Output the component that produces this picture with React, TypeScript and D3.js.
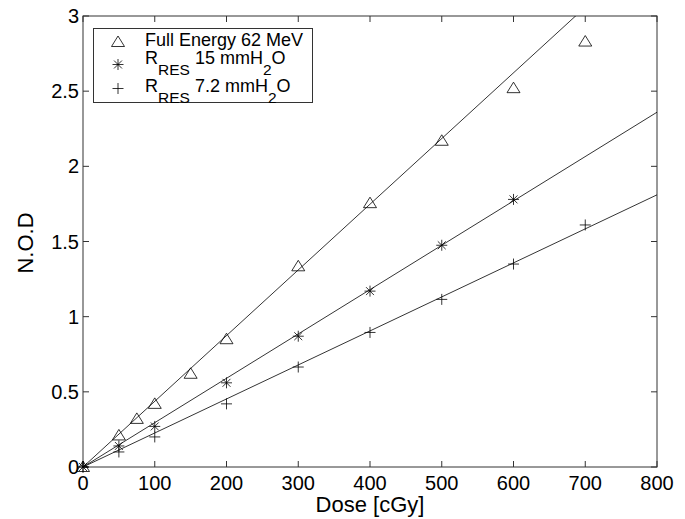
import React from "react";
import * as d3 from "d3";

// values
const xTicks = [0, 100, 200, 300, 400, 500, 600, 700, 800];
const yTicks = [0, 0.5, 1, 1.5, 2, 2.5, 3];

const fullDoses = [0, 50, 75, 100, 150, 200, 300, 400, 500, 600, 700];
const fullNod = [0, 0.21, 0.32, 0.42, 0.62, 0.85, 1.335, 1.755, 2.17, 2.52, 2.83];

const res15Doses = [0, 50, 100, 200, 300, 400, 500, 600];
const res15Nod = [0, 0.14, 0.27, 0.56, 0.87, 1.17, 1.475, 1.78];

const res72Doses = [0, 50, 100, 200, 300, 400, 500, 600, 700];
const res72Nod = [0, 0.1, 0.2, 0.42, 0.665, 0.895, 1.115, 1.35, 1.61];

// linear fits through the origin (slope per cGy)
const fitSlopes = [0.00437, 0.00295, 0.002263];

const width = 685;
const height = 519;
const margin = { top: 16, right: 28, bottom: 52, left: 83 };
const font = "'Liberation Sans', Arial, Helvetica, sans-serif";

const Triangle = ({ x, y }: { x: number; y: number }) => (
  <path
    d={`M${x},${y - 6}L${x + 6.5},${y + 4.5}L${x - 6.5},${y + 4.5}Z`}
    fill="none"
    stroke="#000"
    strokeWidth={0.8}
  />
);

const Star = ({ x, y }: { x: number; y: number }) => {
  const r = 5.5;
  const d = r * 0.72;
  return (
    <path
      d={`M${x - r},${y}H${x + r}M${x},${y - r}V${y + r}M${x - d},${y - d}L${x + d},${y + d}M${x - d},${y + d}L${x + d},${y - d}`}
      stroke="#000"
      strokeWidth={0.8}
    />
  );
};

const Plus = ({ x, y }: { x: number; y: number }) => {
  const r = 5.5;
  return (
    <path
      d={`M${x - r},${y}H${x + r}M${x},${y - r}V${y + r}`}
      stroke="#000"
      strokeWidth={0.8}
    />
  );
};

export default function App() {
  const x = d3
    .scaleLinear()
    .domain([0, 800])
    .range([margin.left, width - margin.right]);
  const y = d3
    .scaleLinear()
    .domain([0, 3])
    .range([height - margin.bottom, margin.top]);

  const [x0, x1] = x.range();
  const [y0, y1] = y.range();
  const tick = 6;

  const fitLine = d3
    .line<number>()
    .x((d) => x(d[0]))
    .y((d) => y(d[1]));

  return (
    <div style={{ position: "absolute", left: 0, top: 0 }}>
      <svg width={width} height={height} style={{ display: "block", background: "#fff" }}>
        <defs>
          <clipPath id="plot">
            <rect x={x0} y={y1} width={x1 - x0} height={y0 - y1} />
          </clipPath>
        </defs>

        {/* frame */}
        <rect x={x0} y={y1} width={x1 - x0} height={y0 - y1} fill="none" stroke="#333" strokeWidth={1} />

        {/* ticks */}
        {xTicks.map((t) => (
          <g key={"x" + t}>
            <line x1={x(t)} x2={x(t)} y1={y0} y2={y0 - tick} stroke="#333" />
            <line x1={x(t)} x2={x(t)} y1={y1} y2={y1 + tick} stroke="#333" />
            <text
              x={x(t)}
              y={y0 + 23}
              textAnchor="middle"
              fontFamily={font}
              fontSize={20}
              fill="#000"
            >
              {t}
            </text>
          </g>
        ))}
        {yTicks.map((t) => (
          <g key={"y" + t}>
            <line x1={x0} x2={x0 + tick} y1={y(t)} y2={y(t)} stroke="#333" />
            <line x1={x1} x2={x1 - tick} y1={y(t)} y2={y(t)} stroke="#333" />
            <text
              x={x0 - 4}
              y={y(t) + 7}
              textAnchor="end"
              fontFamily={font}
              fontSize={20}
              fill="#000"
            >
              {t}
            </text>
          </g>
        ))}

        {/* axis titles */}
        <text x={370} y={512} textAnchor="middle" fontFamily={font} fontSize={22} fill="#000">
          Dose [cGy]
        </text>
        <text
          transform={`translate(33,243) rotate(-90)`}
          textAnchor="middle"
          fontFamily={font}
          fontSize={22}
          fill="#000"
        >
          N.O.D
        </text>

        {/* fitted lines */}
        <g clipPath="url(#plot)">
          {fitSlopes.map((s, i) => (
            <path
              key={i}
              d={fitLine([
                [0, 0],
                [800, 800 * s],
              ] as any) as string}
              fill="none"
              stroke="#000"
              strokeWidth={0.8}
            />
          ))}
        </g>

        {/* data markers */}
        {fullDoses.map((d, i) => (
          <Triangle key={"t" + i} x={x(d)} y={y(fullNod[i])} />
        ))}
        {res15Doses.map((d, i) => (
          <Star key={"s" + i} x={x(d)} y={y(res15Nod[i])} />
        ))}
        {res72Doses.map((d, i) => (
          <Plus key={"p" + i} x={x(d)} y={y(res72Nod[i])} />
        ))}

        {/* legend */}
        <g>
          <rect x={93.5} y={28.5} width={219} height={74} fill="#fff" stroke="#333" strokeWidth={1} />
          <Triangle x={118} y={42} />
          <Star x={118} y={64.5} />
          <Plus x={118} y={88.5} />
          <text x={145} y={46} fontFamily={font} fontSize={18} fill="#000">
            Full Energy 62 MeV
          </text>
          <text x={145} y={63.5} fontFamily={font} fontSize={18} fill="#000">
            R
            <tspan fontSize={15.5} dy={11}>RES</tspan>
            <tspan dy={-11}> 15 mmH</tspan>
            <tspan fontSize={15.5} dy={11}>2</tspan>
            <tspan dy={-11}>O</tspan>
          </text>
          <text x={145} y={91.5} fontFamily={font} fontSize={18} fill="#000">
            R
            <tspan fontSize={15.5} dy={11}>RES</tspan>
            <tspan dy={-11}> 7.2 mmH</tspan>
            <tspan fontSize={15.5} dy={11}>2</tspan>
            <tspan dy={-11}>O</tspan>
          </text>
        </g>
      </svg>
    </div>
  );
}
